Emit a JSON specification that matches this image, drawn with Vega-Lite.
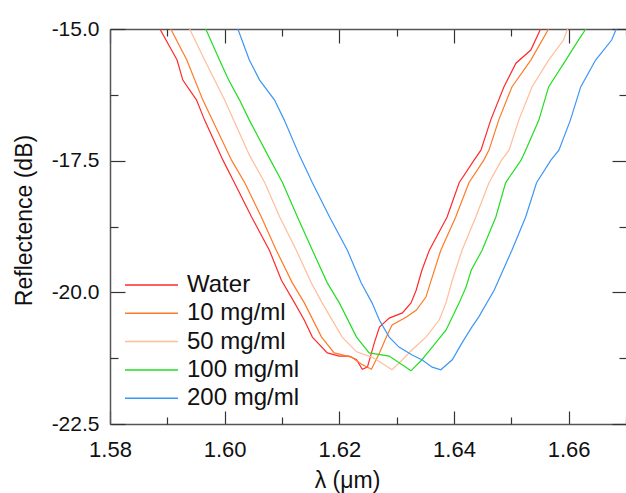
{
  "$schema": "https://vega.github.io/schema/vega-lite/v6.json",
  "width": 516,
  "height": 395,
  "autosize": {"type": "none"},
  "padding": {"left": 110, "top": 29, "right": 0, "bottom": 69},
  "background": "white",
  "config": {"view": {"stroke": null}, "font": "Liberation Sans"},
  "data": {"values": [
    {"s": "Water", "x": 1.5887, "y": -15.00},
    {"s": "Water", "x": 1.5917, "y": -15.59},
    {"s": "Water", "x": 1.5927, "y": -15.97},
    {"s": "Water", "x": 1.5951, "y": -16.35},
    {"s": "Water", "x": 1.5965, "y": -16.73},
    {"s": "Water", "x": 1.5997, "y": -17.49},
    {"s": "Water", "x": 1.6017, "y": -17.92},
    {"s": "Water", "x": 1.6047, "y": -18.57},
    {"s": "Water", "x": 1.6078, "y": -19.20},
    {"s": "Water", "x": 1.6099, "y": -19.77},
    {"s": "Water", "x": 1.6122, "y": -20.20},
    {"s": "Water", "x": 1.6139, "y": -20.53},
    {"s": "Water", "x": 1.6153, "y": -20.85},
    {"s": "Water", "x": 1.6179, "y": -21.15},
    {"s": "Water", "x": 1.6200, "y": -21.21},
    {"s": "Water", "x": 1.6217, "y": -21.21},
    {"s": "Water", "x": 1.6230, "y": -21.28},
    {"s": "Water", "x": 1.6240, "y": -21.46},
    {"s": "Water", "x": 1.6249, "y": -21.42},
    {"s": "Water", "x": 1.6261, "y": -20.96},
    {"s": "Water", "x": 1.6270, "y": -20.66},
    {"s": "Water", "x": 1.6287, "y": -20.49},
    {"s": "Water", "x": 1.6310, "y": -20.39},
    {"s": "Water", "x": 1.6325, "y": -20.20},
    {"s": "Water", "x": 1.6334, "y": -19.96},
    {"s": "Water", "x": 1.6344, "y": -19.58},
    {"s": "Water", "x": 1.6357, "y": -19.20},
    {"s": "Water", "x": 1.6388, "y": -18.57},
    {"s": "Water", "x": 1.6409, "y": -17.92},
    {"s": "Water", "x": 1.6435, "y": -17.49},
    {"s": "Water", "x": 1.6447, "y": -17.30},
    {"s": "Water", "x": 1.6464, "y": -16.73},
    {"s": "Water", "x": 1.6487, "y": -16.10},
    {"s": "Water", "x": 1.6508, "y": -15.65},
    {"s": "Water", "x": 1.6534, "y": -15.40},
    {"s": "Water", "x": 1.6551, "y": -15.00},

    {"s": "10 mg/ml", "x": 1.5906, "y": -15.00},
    {"s": "10 mg/ml", "x": 1.5934, "y": -15.59},
    {"s": "10 mg/ml", "x": 1.5962, "y": -16.35},
    {"s": "10 mg/ml", "x": 1.6012, "y": -17.49},
    {"s": "10 mg/ml", "x": 1.6035, "y": -17.92},
    {"s": "10 mg/ml", "x": 1.6064, "y": -18.57},
    {"s": "10 mg/ml", "x": 1.6090, "y": -19.20},
    {"s": "10 mg/ml", "x": 1.6118, "y": -19.82},
    {"s": "10 mg/ml", "x": 1.6139, "y": -20.20},
    {"s": "10 mg/ml", "x": 1.6169, "y": -20.85},
    {"s": "10 mg/ml", "x": 1.6191, "y": -21.15},
    {"s": "10 mg/ml", "x": 1.6221, "y": -21.23},
    {"s": "10 mg/ml", "x": 1.6238, "y": -21.36},
    {"s": "10 mg/ml", "x": 1.6256, "y": -21.46},
    {"s": "10 mg/ml", "x": 1.6270, "y": -21.15},
    {"s": "10 mg/ml", "x": 1.6282, "y": -20.85},
    {"s": "10 mg/ml", "x": 1.6292, "y": -20.62},
    {"s": "10 mg/ml", "x": 1.6317, "y": -20.47},
    {"s": "10 mg/ml", "x": 1.6334, "y": -20.34},
    {"s": "10 mg/ml", "x": 1.6351, "y": -20.09},
    {"s": "10 mg/ml", "x": 1.6362, "y": -19.71},
    {"s": "10 mg/ml", "x": 1.6377, "y": -19.20},
    {"s": "10 mg/ml", "x": 1.6403, "y": -18.57},
    {"s": "10 mg/ml", "x": 1.6426, "y": -17.92},
    {"s": "10 mg/ml", "x": 1.6452, "y": -17.49},
    {"s": "10 mg/ml", "x": 1.6461, "y": -17.30},
    {"s": "10 mg/ml", "x": 1.6478, "y": -16.73},
    {"s": "10 mg/ml", "x": 1.6501, "y": -16.10},
    {"s": "10 mg/ml", "x": 1.6534, "y": -15.59},
    {"s": "10 mg/ml", "x": 1.6565, "y": -15.00},

    {"s": "50 mg/ml", "x": 1.5939, "y": -15.00},
    {"s": "50 mg/ml", "x": 1.5965, "y": -15.59},
    {"s": "50 mg/ml", "x": 1.6000, "y": -16.35},
    {"s": "50 mg/ml", "x": 1.6043, "y": -17.39},
    {"s": "50 mg/ml", "x": 1.6070, "y": -17.92},
    {"s": "50 mg/ml", "x": 1.6096, "y": -18.57},
    {"s": "50 mg/ml", "x": 1.6125, "y": -19.20},
    {"s": "50 mg/ml", "x": 1.6151, "y": -19.82},
    {"s": "50 mg/ml", "x": 1.6170, "y": -20.20},
    {"s": "50 mg/ml", "x": 1.6205, "y": -20.85},
    {"s": "50 mg/ml", "x": 1.6230, "y": -21.13},
    {"s": "50 mg/ml", "x": 1.6257, "y": -21.23},
    {"s": "50 mg/ml", "x": 1.6292, "y": -21.47},
    {"s": "50 mg/ml", "x": 1.6310, "y": -21.28},
    {"s": "50 mg/ml", "x": 1.6327, "y": -21.09},
    {"s": "50 mg/ml", "x": 1.6351, "y": -20.85},
    {"s": "50 mg/ml", "x": 1.6374, "y": -20.53},
    {"s": "50 mg/ml", "x": 1.6386, "y": -20.20},
    {"s": "50 mg/ml", "x": 1.6397, "y": -19.77},
    {"s": "50 mg/ml", "x": 1.6414, "y": -19.20},
    {"s": "50 mg/ml", "x": 1.6438, "y": -18.57},
    {"s": "50 mg/ml", "x": 1.6461, "y": -17.92},
    {"s": "50 mg/ml", "x": 1.6483, "y": -17.49},
    {"s": "50 mg/ml", "x": 1.6496, "y": -17.30},
    {"s": "50 mg/ml", "x": 1.6513, "y": -16.73},
    {"s": "50 mg/ml", "x": 1.6536, "y": -16.10},
    {"s": "50 mg/ml", "x": 1.6565, "y": -15.59},
    {"s": "50 mg/ml", "x": 1.6591, "y": -15.21},
    {"s": "50 mg/ml", "x": 1.6598, "y": -15.00},

    {"s": "100 mg/ml", "x": 1.5967, "y": -15.00},
    {"s": "100 mg/ml", "x": 1.5991, "y": -15.59},
    {"s": "100 mg/ml", "x": 1.6007, "y": -15.97},
    {"s": "100 mg/ml", "x": 1.6026, "y": -16.35},
    {"s": "100 mg/ml", "x": 1.6043, "y": -16.73},
    {"s": "100 mg/ml", "x": 1.6075, "y": -17.39},
    {"s": "100 mg/ml", "x": 1.6101, "y": -17.92},
    {"s": "100 mg/ml", "x": 1.6127, "y": -18.57},
    {"s": "100 mg/ml", "x": 1.6153, "y": -19.20},
    {"s": "100 mg/ml", "x": 1.6179, "y": -19.82},
    {"s": "100 mg/ml", "x": 1.6200, "y": -20.20},
    {"s": "100 mg/ml", "x": 1.6230, "y": -20.85},
    {"s": "100 mg/ml", "x": 1.6252, "y": -21.15},
    {"s": "100 mg/ml", "x": 1.6287, "y": -21.21},
    {"s": "100 mg/ml", "x": 1.6325, "y": -21.49},
    {"s": "100 mg/ml", "x": 1.6344, "y": -21.28},
    {"s": "100 mg/ml", "x": 1.6362, "y": -21.04},
    {"s": "100 mg/ml", "x": 1.6386, "y": -20.72},
    {"s": "100 mg/ml", "x": 1.6409, "y": -20.20},
    {"s": "100 mg/ml", "x": 1.6421, "y": -19.90},
    {"s": "100 mg/ml", "x": 1.6430, "y": -19.58},
    {"s": "100 mg/ml", "x": 1.6449, "y": -19.20},
    {"s": "100 mg/ml", "x": 1.6473, "y": -18.57},
    {"s": "100 mg/ml", "x": 1.6490, "y": -17.92},
    {"s": "100 mg/ml", "x": 1.6517, "y": -17.49},
    {"s": "100 mg/ml", "x": 1.6525, "y": -17.30},
    {"s": "100 mg/ml", "x": 1.6548, "y": -16.73},
    {"s": "100 mg/ml", "x": 1.6565, "y": -16.10},
    {"s": "100 mg/ml", "x": 1.6595, "y": -15.59},
    {"s": "100 mg/ml", "x": 1.6617, "y": -15.21},
    {"s": "100 mg/ml", "x": 1.6630, "y": -15.00},

    {"s": "200 mg/ml", "x": 1.6023, "y": -15.00},
    {"s": "200 mg/ml", "x": 1.6043, "y": -15.59},
    {"s": "200 mg/ml", "x": 1.6061, "y": -15.97},
    {"s": "200 mg/ml", "x": 1.6087, "y": -16.35},
    {"s": "200 mg/ml", "x": 1.6104, "y": -16.73},
    {"s": "200 mg/ml", "x": 1.6130, "y": -17.39},
    {"s": "200 mg/ml", "x": 1.6153, "y": -17.92},
    {"s": "200 mg/ml", "x": 1.6183, "y": -18.57},
    {"s": "200 mg/ml", "x": 1.6214, "y": -19.20},
    {"s": "200 mg/ml", "x": 1.6238, "y": -19.82},
    {"s": "200 mg/ml", "x": 1.6257, "y": -20.20},
    {"s": "200 mg/ml", "x": 1.6270, "y": -20.53},
    {"s": "200 mg/ml", "x": 1.6287, "y": -20.85},
    {"s": "200 mg/ml", "x": 1.6304, "y": -21.04},
    {"s": "200 mg/ml", "x": 1.6327, "y": -21.19},
    {"s": "200 mg/ml", "x": 1.6344, "y": -21.28},
    {"s": "200 mg/ml", "x": 1.6362, "y": -21.42},
    {"s": "200 mg/ml", "x": 1.6377, "y": -21.47},
    {"s": "200 mg/ml", "x": 1.6397, "y": -21.28},
    {"s": "200 mg/ml", "x": 1.6414, "y": -20.96},
    {"s": "200 mg/ml", "x": 1.6431, "y": -20.66},
    {"s": "200 mg/ml", "x": 1.6443, "y": -20.47},
    {"s": "200 mg/ml", "x": 1.6470, "y": -19.96},
    {"s": "200 mg/ml", "x": 1.6501, "y": -19.20},
    {"s": "200 mg/ml", "x": 1.6525, "y": -18.57},
    {"s": "200 mg/ml", "x": 1.6544, "y": -17.92},
    {"s": "200 mg/ml", "x": 1.6569, "y": -17.49},
    {"s": "200 mg/ml", "x": 1.6583, "y": -17.30},
    {"s": "200 mg/ml", "x": 1.6603, "y": -16.73},
    {"s": "200 mg/ml", "x": 1.6621, "y": -16.10},
    {"s": "200 mg/ml", "x": 1.6647, "y": -15.59},
    {"s": "200 mg/ml", "x": 1.6675, "y": -15.21},
    {"s": "200 mg/ml", "x": 1.6683, "y": -15.00}
  ]},
  "layer": [
    {
      "mark": {"type": "line", "strokeWidth": 1.2, "clip": true},
      "encoding": {
        "x": {"field": "x", "type": "quantitative",
          "scale": {"domain": [1.58, 1.67], "nice": false, "zero": false},
          "axis": {"orient": "bottom", "values": [1.58, 1.60, 1.62, 1.64, 1.66], "format": ".2f",
            "tickSize": -13, "tickColor": "#333", "tickWidth": 1.2,
            "domain": true, "domainColor": "#555", "domainWidth": 1.5, "grid": false,
            "labelFontSize": 22, "labelColor": "#111", "labelPadding": 28, "labelBaseline": "top", "labelFlush": false,
            "title": "λ (μm)", "titleFontSize": 23, "titleFontWeight": "normal", "titleColor": "#111",
            "titleX": 237, "titleY": 63, "titleBaseline": "alphabetic", "titleAlign": "center"}},
        "y": {"field": "y", "type": "quantitative",
          "scale": {"domain": [-22.5, -15], "nice": false, "zero": false},
          "axis": {"orient": "left", "values": [-22.5, -20, -17.5, -15],
            "labelExpr": "(datum.value < 0 ? '-' : '') + format(abs(datum.value), '.1f')",
            "tickSize": -15, "tickColor": "#333", "tickWidth": 1.2,
            "domain": true, "domainColor": "#555", "domainWidth": 1.5, "grid": false,
            "labelFontSize": 21, "labelColor": "#111", "labelPadding": 26, "labelFlush": false,
            "title": "Reflectence (dB)", "titleFontSize": 23, "titleFontWeight": "normal", "titleColor": "#111",
            "titleX": -79, "titleY": 191, "titleBaseline": "alphabetic", "titleAlign": "center", "titleAngle": 270}},
        "color": {"field": "s", "type": "nominal",
          "scale": {"domain": ["Water", "10 mg/ml", "50 mg/ml", "100 mg/ml", "200 mg/ml"],
                    "range": ["#ff2a2a", "#ff7a26", "#ffbd99", "#22dd22", "#3d96f5"]},
          "legend": {"title": null, "orient": "none", "legendX": 14, "legendY": 244,
            "symbolType": "stroke", "symbolSize": 2809, "symbolStrokeWidth": 1.5,
            "clipHeight": 24,
            "labelFontSize": 24, "labelColor": "#111", "labelOffset": 8, "rowPadding": 4.3, "padding": 0}}
      }
    },
    {
      "mark": {"type": "point", "opacity": 0},
      "encoding": {
        "x": {"field": "x", "type": "quantitative",
          "axis": {"orient": "top", "values": [1.58, 1.60, 1.62, 1.64, 1.66], "labels": false,
            "tickSize": -14, "tickColor": "#333", "tickWidth": 1.2,
            "domain": true, "domainColor": "#555", "domainWidth": 1.5, "grid": false, "title": null}},
        "y": {"field": "y", "type": "quantitative",
          "axis": {"orient": "right", "values": [-22.5, -20, -17.5, -15], "labels": false,
            "tickSize": -14, "tickColor": "#333", "tickWidth": 1.2,
            "domain": false, "grid": false, "title": null}}
      }
    },
    {
      "mark": {"type": "point", "opacity": 0},
      "encoding": {
        "x": {"field": "x", "type": "quantitative",
          "axis": {"orient": "bottom", "values": [1.59, 1.61, 1.63, 1.65, 1.67], "labels": false,
            "tickSize": -7, "tickColor": "#333", "tickWidth": 1.2,
            "domain": false, "grid": false, "title": null}},
        "y": {"field": "y", "type": "quantitative",
          "axis": {"orient": "left", "values": [-21.25, -18.75, -16.25], "labels": false,
            "tickSize": -8, "tickColor": "#333", "tickWidth": 1.2,
            "domain": false, "grid": false, "title": null}}
      }
    },
    {
      "mark": {"type": "point", "opacity": 0},
      "encoding": {
        "x": {"field": "x", "type": "quantitative",
          "axis": {"orient": "top", "values": [1.59, 1.61, 1.63, 1.65, 1.67], "labels": false,
            "tickSize": -7, "tickColor": "#333", "tickWidth": 1.2,
            "domain": false, "grid": false, "title": null}},
        "y": {"field": "y", "type": "quantitative",
          "axis": {"orient": "right", "values": [-21.25, -18.75, -16.25], "labels": false,
            "tickSize": -7, "tickColor": "#333", "tickWidth": 1.2,
            "domain": false, "grid": false, "title": null}}
      }
    }
  ],
  "resolve": {"axis": {"x": "independent", "y": "independent"}}
}
